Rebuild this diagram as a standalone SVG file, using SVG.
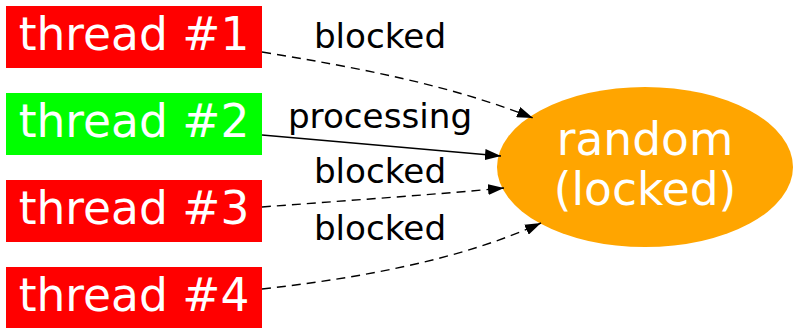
<svg xmlns="http://www.w3.org/2000/svg" width="794" height="328" viewBox="0 0 794 328">
  <style>
    .box { stroke: none; }
    .lbl { font-family: "DejaVu Sans", sans-serif; font-size: 45.5px; fill: #ffffff; text-anchor: middle; }
    .elbl { font-family: "DejaVu Sans", sans-serif; font-size: 34.2px; fill: #000000; text-anchor: middle; }
    .edge { fill: none; stroke: #000000; stroke-width: 1.4; }
    .dashed { stroke-dasharray: 9 6; }
  </style>
  <defs>
    <marker id="arrow" markerUnits="userSpaceOnUse" viewBox="0 0 16 11" refX="16" refY="5.5" markerWidth="16" markerHeight="11" orient="auto">
      <path d="M0,0 L16,5.5 L0,11 z" fill="#000000"/>
    </marker>
  </defs>

  <g id="random">
    <ellipse cx="645" cy="167" rx="148" ry="80" fill="#ffa500"/>
    <text class="lbl" x="645" y="155">random</text>
    <text class="lbl" x="645" y="205">(locked)</text>
  </g>

  <g id="thread1">
    <rect class="box" x="6" y="6" width="256" height="62" fill="#ff0000"/>
    <text class="lbl" x="134" y="50">thread #1</text>
  </g>
  <g id="thread2">
    <rect class="box" x="6" y="93" width="256" height="62" fill="#00ff00"/>
    <text class="lbl" x="134" y="137">thread #2</text>
  </g>
  <g id="thread3">
    <rect class="box" x="6" y="180" width="256" height="62" fill="#ff0000"/>
    <text class="lbl" x="134" y="224">thread #3</text>
  </g>
  <g id="thread4">
    <rect class="box" x="6" y="267" width="256" height="62" fill="#ff0000"/>
    <text class="lbl" x="134" y="311">thread #4</text>
  </g>

  <g id="edges">
    <path class="edge dashed" d="M262,52 C360,68 450,85 533,118" marker-end="url(#arrow)"/>
    <text class="elbl" x="380" y="48">blocked</text>
    <path class="edge" d="M262,135 L501,156" marker-end="url(#arrow)"/>
    <text class="elbl" x="380" y="128">processing</text>
    <path class="edge dashed" d="M262,207 C340,201 430,195 504,188" marker-end="url(#arrow)"/>
    <text class="elbl" x="380" y="183">blocked</text>
    <path class="edge dashed" d="M262,289 C360,278 460,260 541,223" marker-end="url(#arrow)"/>
    <text class="elbl" x="380" y="240">blocked</text>
  </g>
</svg>
